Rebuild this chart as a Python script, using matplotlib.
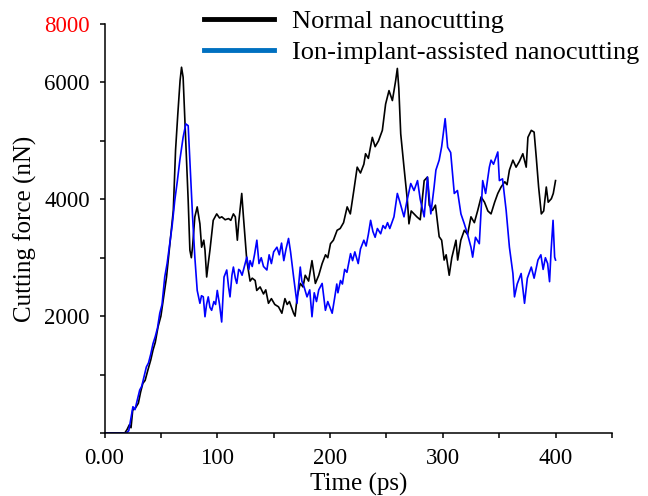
import numpy as np
import matplotlib.pyplot as plt
from matplotlib.lines import Line2D

# Normal nanocutting (black)
t_normal = [0, 18, 20, 22, 23.5, 25, 27.5, 30, 32, 34, 36, 38.5, 41, 43, 45, 47.5, 50, 52, 55, 58,
            61, 63, 65, 67, 68.3, 69.7, 71.2, 72.8, 74.2, 75.7, 77, 78.1, 80.1, 82.2, 84.6, 86.1, 88,
            89.1, 90.6, 92, 93.5, 96.4, 99.5, 102, 104, 107, 110, 112, 114.3, 116, 117.8, 119, 121.7,
            123.2, 126.2, 129.1, 131, 133.6, 135, 138, 141, 143, 145.4, 148, 151, 154.3, 157.3, 160,
            162, 164, 167.7, 169, 171, 173.6, 176, 178, 181, 184, 187, 190, 193, 196, 198, 200.4, 203,
            206.3, 209, 212, 215.2, 218, 221.1, 224.1, 227, 230, 231.5, 234, 237.5, 240, 243, 246.4,
            249.3, 252.3, 255.3, 258.2, 259.7, 261, 262.7, 265.6, 268.6, 270, 272, 274.5, 277, 280,
            283.5, 286.4, 288, 290.9, 293.5, 295, 296.8, 299, 301.2, 303, 305.7, 308, 311.7, 313.2,
            316, 319.1, 322, 325, 328, 331, 334, 337, 340, 342.8, 346, 348.8, 351.7, 355, 357, 359.1,
            362.2, 365, 368, 371, 374, 375.5, 378.5, 381, 382.9, 385, 387.4, 389.5, 391.8, 393.5,
            396.3, 398, 400]
f_normal = [0, 0, 60, 140, 90, 390, 430, 510, 700, 850, 900, 1080, 1250, 1420, 1550, 1820, 2000, 2270,
            2670, 3240, 3810, 4840, 5460, 6030, 6260, 6090, 5400, 4670, 3980, 3130, 3000, 3190, 3700,
            3870, 3580, 3180, 3300, 3130, 2670, 2900, 3130, 3640, 3750, 3680, 3700, 3650, 3670, 3640,
            3750, 3700, 3300, 3600, 4100, 3700, 2950, 2600, 2650, 2610, 2440, 2500, 2380, 2450, 2220,
            2300, 2200, 2160, 2050, 2300, 2200, 2250, 2050, 2000, 2350, 2560, 2500, 2700, 2600, 2950,
            2560, 2700, 2900, 3050, 3000, 3240, 3300, 3470, 3500, 3600, 3870, 3750, 4150, 4550, 4450,
            4600, 4780, 4700, 5060, 4900, 5000, 5180, 5630, 5860, 5690, 6030, 6240, 5900, 5120, 4550,
            3980, 3580, 3800, 3750, 3700, 3650, 4320, 4380, 3900, 3810, 3900, 3650, 3360, 3300, 2960,
            3050, 2700, 3000, 3300, 2960, 3300, 3470, 3400, 3700, 3600, 3810, 4040, 3950, 3800, 3750,
            3950, 4100, 4210, 4300, 4250, 4500, 4670, 4550, 4650, 4780, 4550, 5060, 5180, 5150, 4720,
            4210, 3750, 3800, 4210, 3950, 4010, 4100, 4320]

# Ion-implant-assisted nanocutting (blue)
t_ion = [0, 19.5, 21.5, 23.7, 25.2, 27, 29, 31.2, 33, 35, 37.1, 39, 41, 43, 45, 47, 49, 51, 53.4, 55.5,
         57.9, 60, 62.3, 64.5, 66.8, 69.7, 72.1, 74.2, 75.7, 78.1, 80.1, 82.2, 84.6, 86, 87.6, 89.1,
         90.5, 92, 93.5, 95, 97, 98.5, 100, 102, 103.9, 106, 108.4, 110, 111.3, 113, 114.3, 116, 117.3,
         119, 120.2, 122, 124, 126.2, 128, 129.1, 131, 133, 135.1, 137, 139, 141, 144, 146, 148, 150,
         152.9, 155, 157, 159, 161, 163.2, 165, 167.7, 170.7, 172, 173.6, 175, 177, 179.6, 182, 184,
         186, 188, 190, 193, 195.9, 198, 201.9, 204, 206, 207, 209.3, 211, 213, 215, 218.2, 220, 222,
         225, 227, 230, 232, 234, 236, 238, 240, 242, 244.9, 247, 249, 251, 253, 256.7, 259.7, 262,
         265.6, 268, 271.6, 274.5, 277.6, 280, 283.5, 286.4, 289.4, 292.3, 293.9, 296.8, 299, 302.1,
         304.3, 307, 310.2, 313, 316.1, 319.1, 322, 325, 326.5, 329, 332.4, 335.4, 338, 341.3, 342.8,
         345, 348.8, 350.2, 353, 356.2, 359.1, 362.2, 363.6, 366, 369.5, 372.5, 375, 378.5, 381,
         384.4, 387, 389, 391, 393, 394.7, 396, 397.8, 399.2, 400]
f_ion = [0, 0, 40, 280, 450, 400, 560, 735, 800, 960, 1130, 1200, 1350, 1530, 1650, 1800, 2050, 2200,
         2670, 2900, 3240, 3550, 3980, 4300, 4670, 5060, 5290, 5260, 4670, 3700, 3010, 2440, 2220, 2350,
         2330, 1990, 2200, 2330, 2150, 2100, 2250, 2200, 2440, 2200, 1900, 2670, 2790, 2500, 2330, 2700,
         2840, 2650, 2560, 2800, 2780, 2700, 2850, 3010, 2800, 2950, 2850, 3050, 3300, 2900, 3000, 2850,
         2790, 3050, 2900, 3100, 3180, 3050, 3250, 2950, 3150, 3330, 3100, 2670, 2220, 2500, 2840, 2600,
         2500, 2330, 2450, 1990, 2400, 2250, 2450, 2560, 2100, 2250, 2050, 2300, 2550, 2400, 2610, 2550,
         2800, 2750, 3070, 2950, 3100, 2900, 3150, 3300, 3200, 3400, 3640, 3450, 3350, 3500, 3410, 3550,
         3500, 3600, 3500, 3700, 4100, 3950, 3700, 3950, 4270, 4150, 4320, 4000, 3700, 4380, 3750, 4210,
         4500, 4670, 4900, 5380, 4890, 4800, 4100, 4150, 3750, 3580, 3400, 3180, 3010, 3350, 3240, 4320,
         4100, 4550, 4670, 4600, 4810, 4320, 4350, 3810, 3180, 2730, 2330, 2550, 2730, 2220, 2650, 2840,
         2650, 2960, 3050, 2800, 3000, 2900, 2590, 3100, 3640, 3010, 2960]

x_ticks = [0, 50, 100, 150, 200, 250, 300, 350, 400, 450]
x_labels = ["0.00", "", "100", "", "200", "", "300", "", "400", ""]
y_ticks = [0, 1000, 2000, 3000, 4000, 5000, 6000, 7000]
y_labels = ["", "", "2000", "", "4000", "", "6000", "8000"]

plt.rcParams['font.family'] = 'Liberation Serif'

fig = plt.figure(figsize=(6.48, 4.96), dpi=100)
ax = fig.add_axes([0.1613, 0.127, 0.783, 0.8246])

ax.plot(t_normal, f_normal, color='black', lw=1.2)
ax.plot(t_ion, f_ion, color='#0000ff', lw=1.2)

ax.set_xlim(0, 450)
ax.set_ylim(0, 7000)
ax.set_xticks(x_ticks)
ax.set_xticklabels(x_labels)
ax.set_yticks(y_ticks)
ax.set_yticklabels(y_labels)
ax.get_yticklabels()[-1].set_color('red')
ax.tick_params(direction='out', length=3.5, width=1.1, labelsize=16.5, pad=7)

for side in ('top', 'right'):
    ax.spines[side].set_visible(False)
for side in ('left', 'bottom'):
    ax.spines[side].set_linewidth(1.1)

ax.set_xlabel("Time (ps)", fontsize=18, labelpad=3)
ax.set_ylabel("Cutting force (nN)", fontsize=18, labelpad=5)

handles = [Line2D([], [], color='black', lw=3.5),
           Line2D([], [], color='#0070c0', lw=3.5)]
fig.legend(handles, ["Normal nanocutting", "Ion-implant-assisted nanocutting"],
           loc='upper left', bbox_to_anchor=(204 / 648, 1 - 10 / 496), frameon=False,
           borderpad=0, borderaxespad=0,
           fontsize=19, handlelength=2.65, handletextpad=0.7, labelspacing=0.28)

fig.savefig("out.png", dpi=100)
